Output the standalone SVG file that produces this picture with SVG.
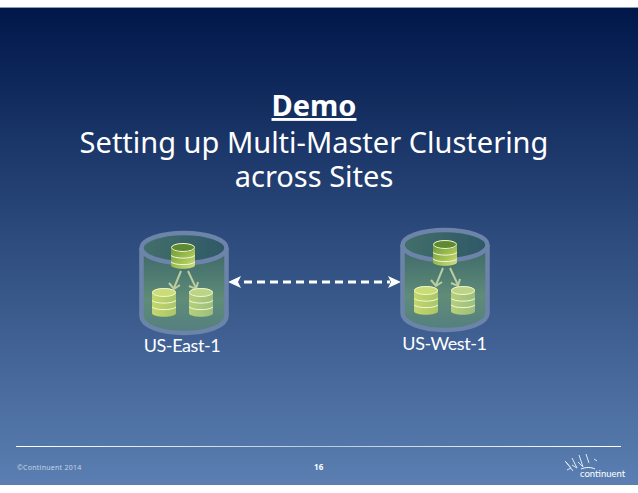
<svg xmlns="http://www.w3.org/2000/svg" width="638" height="493" viewBox="0 0 638 493">
<style>
.title{font-family:"Noto Sans","Open Sans",sans-serif;font-size:29px;fill:#fff;text-anchor:middle}
.lbl{font-family:"Lato","Noto Sans",sans-serif;font-size:18px;letter-spacing:-.4px;fill:#fff;text-anchor:middle}
.foot{font-family:"Noto Sans",sans-serif;font-size:7px;fill:#c4d4e8;letter-spacing:.25px}
.rim{fill:none;stroke:#6c84a9;stroke-width:4.500}
.arr{fill:none;stroke:#b9cda0;stroke-width:2}
.band{fill:none;stroke:#f2f6dc;stroke-width:1}
.soft{filter:url(#sf)}
</style>
<defs>
<filter id="sf" x="-5%" y="-5%" width="110%" height="110%"><feGaussianBlur stdDeviation=".45"/></filter>
<linearGradient id="bg" x1="0" y1="0" x2="0" y2="1"><stop offset="0" stop-color="#00174a"/><stop offset=".5" stop-color="#2f4d7f"/><stop offset="1" stop-color="#5b7fb2"/></linearGradient>
<linearGradient id="body" x1="0" y1="0" x2="0" y2="1"><stop offset="0" stop-color="#3c6668"/><stop offset=".6" stop-color="#5f8c78"/><stop offset="1" stop-color="#557f80"/></linearGradient>
<linearGradient id="top" x1="0" y1="0" x2="1" y2="0"><stop offset="0" stop-color="#436f6c"/><stop offset="1" stop-color="#2f5866"/></linearGradient>
<linearGradient id="dbA" x1="0" y1="0" x2="1" y2="1"><stop offset="0" stop-color="#6f9a3a"/><stop offset=".6" stop-color="#a6c455"/><stop offset="1" stop-color="#d2e08a"/></linearGradient>
<linearGradient id="dbB" x1="0" y1="0" x2="1" y2="0"><stop offset="0" stop-color="#c4d76a"/><stop offset="1" stop-color="#a9c66a"/></linearGradient>
<linearGradient id="dbC" x1="0" y1="0" x2="1" y2="0"><stop offset="0" stop-color="#b6d07a"/><stop offset="1" stop-color="#9cbf7c"/></linearGradient>
<linearGradient id="rule" x1="0" y1="0" x2="1" y2="0"><stop offset="0" stop-color="#fff"/><stop offset=".5" stop-color="#b9c9de"/><stop offset="1" stop-color="#fff"/></linearGradient>
<g id="cyl">
<path d="M0 16V84C0 94 19 101 42.500 101S85 94 85 84V16Z" fill="url(#body)"/>
<ellipse cx="42.500" cy="16" rx="42.500" ry="15" fill="url(#top)"/>
<path class="rim" d="M0 16V84C0 94 19 101 42.500 101S85 94 85 84V16"/>
<ellipse class="rim" cx="42.500" cy="16" rx="42.500" ry="15"/>
</g>
<g id="dbshape">
<path class="band" d="M0 12.500C4 16 20 16 24 12.500M0 19C4 22.500 20 22.500 24 19"/>
<ellipse cx="12" cy="4.500" rx="11.500" ry="4" fill="none" stroke="#eef4c8" stroke-width="1"/>
</g>
<path id="darrows" class="arr" d="M-2 0L-9 17M-14 12L-9 18L-3 14M5 0L13 17M6 15L13 18L15 11"/>
</defs>
<rect width="638" height="493" fill="#fff"/>
<rect y="7" width="638" height="1" fill="#8d9ab3"/>
<rect y="8" width="638" height="477" fill="url(#bg)"/>
<text class="title"><tspan x="314" y="116" font-weight="700" text-decoration="underline">Demo</tspan><tspan x="314" y="153">Setting up Multi-Master Clustering</tspan><tspan x="314" y="187">across Sites</tspan></text>
<g id="connectors">
<path d="M244 282H390" fill="none" stroke="#fff" stroke-width="3" stroke-dasharray="8 5"/>
<path d="M228 282L241 276L238 282L241 288Z" fill="#fff"/>
<path d="M401 282L388 276L391 282L388 288Z" fill="#fff"/>
</g>
<g id="us-east">
<g class="soft">
<use href="#cyl" x="141.500" y="232"/>
<path d="M171 248V265C171 270 195 270 195 265V248Z" fill="url(#dbA)"/><ellipse cx="183" cy="247.500" rx="12" ry="4.500" fill="#5f8a35"/><use href="#dbshape" x="171" y="243"/>
<use href="#darrows" x="183" y="271"/>
<path d="M152 293V313C152 318 176 318 176 313V293Z" fill="url(#dbB)"/><ellipse cx="164" cy="292.500" rx="12" ry="4.500" fill="#c9dc78"/><use href="#dbshape" x="152" y="288"/>
<path d="M189 293V313C189 318 213 318 213 313V293Z" fill="url(#dbC)"/><ellipse cx="201" cy="292.500" rx="12" ry="4.500" fill="#bdd488"/><use href="#dbshape" x="189" y="288"/>
</g>
<text class="lbl" x="182" y="352">US-East-1</text>
</g>
<g id="us-west">
<g class="soft">
<use href="#cyl" x="402.500" y="229"/>
<path d="M433 245V262C433 267 457 267 457 262V245Z" fill="url(#dbA)"/><ellipse cx="445" cy="244.500" rx="12" ry="4.500" fill="#5f8a35"/><use href="#dbshape" x="433" y="240"/>
<use href="#darrows" x="445" y="268"/>
<path d="M414 291V311C414 316 438 316 438 311V291Z" fill="url(#dbB)"/><ellipse cx="426" cy="290.500" rx="12" ry="4.500" fill="#c9dc78"/><use href="#dbshape" x="414" y="286"/>
<path d="M451 291V311C451 316 475 316 475 311V291Z" fill="url(#dbC)"/><ellipse cx="463" cy="290.500" rx="12" ry="4.500" fill="#bdd488"/><use href="#dbshape" x="451" y="286"/>
</g>
<text class="lbl" x="444.500" y="350">US-West-1</text>
</g>
<rect x="16" y="446" width="605" height="1" fill="url(#rule)"/>
<text class="foot" x="17" y="470">©Continuent 2014</text>
<text class="foot" x="314" y="470" font-weight="700" style="fill:#fff;font-size:8px">16</text>
<g id="logo">
<path d="M565 461L571 468L567 470M572 458L577 468L572 465M579 455L583 467L578 462M586 454L589 463M566 462L573 471M594 459L597 461" fill="none" stroke="#dfe7f2" stroke-width="1"/>
<path d="M581 469C586 467 591 467 595 469" fill="none" stroke="#fff" stroke-width="1"/>
<text x="580" y="477" font-family="Lato,sans-serif" font-size="9.500" fill="#fff">continuent</text>
</g>
</svg>
